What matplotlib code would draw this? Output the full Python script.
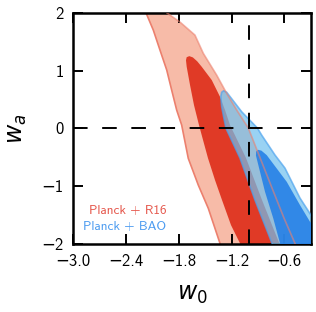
import matplotlib
matplotlib.use("Agg")
import matplotlib.pyplot as plt

# contour outlines (w0, wa)
r16_95_w0 = [-2.22, -2.173, -2.090, -2.014, -1.937, -1.881, -1.824, -1.767, -1.692,
             -1.578, -1.464, -1.331, -1.30, -0.45, -0.478, -0.603, -0.739, -0.910,
             -1.009, -1.141, -1.255, -1.369, -1.521, -1.616, -1.786, -1.937, -1.98]
r16_95_wa = [2.15, 2.0, 1.701, 1.355, 1.009, 0.663, 0.317, 0.057, -0.519,
             -0.981, -1.384, -1.990, -2.3, -2.3, -1.990, -1.552, -1.033, -0.376,
             0.005, 0.317, 0.606, 0.922, 1.298, 1.614, 1.839, 2.0, 2.15]

r16_68_w0 = [-1.680, -1.640, -1.590, -1.539, -1.425, -1.331, -1.274, -1.217, -1.035,
             -0.853, -0.648, -0.63, -1.08, -1.103, -1.206, -1.308, -1.388, -1.468,
             -1.524, -1.570, -1.627, -1.672, -1.710, -1.718, -1.710]
r16_68_wa = [1.250, 1.228, 1.160, 1.066, 0.836, 0.547, 0.317, 0.057, -0.514,
             -1.241, -2.02, -2.3, -2.3, -1.99, -1.673, -1.241, -0.894, -0.514,
             -0.202, 0.057, 0.403, 0.749, 1.066, 1.180, 1.232]

bao_95_w0 = [-1.290, -1.255, -1.195, -1.084, -0.905, -0.857, -0.705, -0.592, -0.421,
             -0.296, -0.2, -0.2, -0.69, -0.739, -0.933, -1.104, -1.263, -1.290,
             -1.312, -1.322, -1.312]
bao_95_wa = [0.650, 0.625, 0.507, 0.287, 0.005, -0.116, -0.462, -0.687, -1.206,
             -1.50, -1.7, -2.3, -2.3, -1.99, -1.241, -0.514, 0.0, 0.20,
             0.374, 0.55, 0.625]

bao_68_w0 = [-0.900, -0.860, -0.800, -0.572, -0.421, -0.307, -0.2, -0.2, -0.614,
             -0.648, -0.725, -0.819, -0.895, -0.922, -0.920]
bao_68_wa = [-0.370, -0.385, -0.462, -0.924, -1.327, -1.616, -1.8, -2.3, -2.3,
             -1.990, -1.557, -1.097, -0.635, -0.470, -0.400]

x_ticks = [-3.0, -2.4, -1.8, -1.2, -0.6]
y_ticks = [-2, -1, 0, 1, 2]
labels = ["Planck + R16", "Planck + BAO"]

plt.rcParams["font.family"] = ["cmss10", "DejaVu Sans"]
plt.rcParams["mathtext.fontset"] = "dejavusans"
plt.rcParams["axes.unicode_minus"] = True

fig = plt.figure(figsize=(3.16, 3.12), dpi=100)
ax = fig.add_axes([0.232, 0.218, 0.751, 0.741])

# Planck + R16
ax.fill(r16_95_w0, r16_95_wa, color="#F7BBA8", lw=0, zorder=1)
ax.fill(r16_68_w0, r16_68_wa, color="#E03A26", lw=0, zorder=2)
ax.plot(r16_95_w0[:13], r16_95_wa[:13], color="#EC806E", lw=1.2, zorder=2)

# Planck + BAO
ax.fill(bao_95_w0, bao_95_wa, facecolor="#6EC0EE", alpha=0.7,
        edgecolor="#4DA3EE", lw=1.2, zorder=3)
ax.fill(bao_68_w0, bao_68_wa, color="#2680E6", alpha=0.9, lw=0, zorder=4)

# red outer edge shows through the blue
ax.plot(r16_95_w0[13:], r16_95_wa[13:], color="#EC806E", lw=1.2,
        alpha=0.6, zorder=5)

ax.axhline(0, color="black", lw=1.4, dashes=(7.5, 7.5), zorder=6)
ax.axvline(-1, color="black", lw=1.4, dashes=(7.5, 7.5), zorder=6)

ax.set_xlim(-3.0, -0.3)
ax.set_ylim(-2, 2)
ax.set_xticks(x_ticks)
ax.set_yticks(y_ticks)
ax.tick_params(direction="in", top=True, right=True, length=7, width=1.4,
               labelsize=12, pad=7)
for s in ax.spines.values():
    s.set_linewidth(1.8)

ax.set_xlabel(r"$w_0$", fontsize=17, labelpad=11)
ax.set_ylabel(r"$w_a$", fontsize=17, labelpad=9)

ax.text(0.393, 0.143, labels[0], color="#E5564B", fontsize=9.5,
        ha="right", va="center", transform=ax.transAxes)
ax.text(0.393, 0.075, labels[1], color="#4B9BF0", fontsize=9.5,
        ha="right", va="center", transform=ax.transAxes)

fig.savefig("out.png", dpi=100)
